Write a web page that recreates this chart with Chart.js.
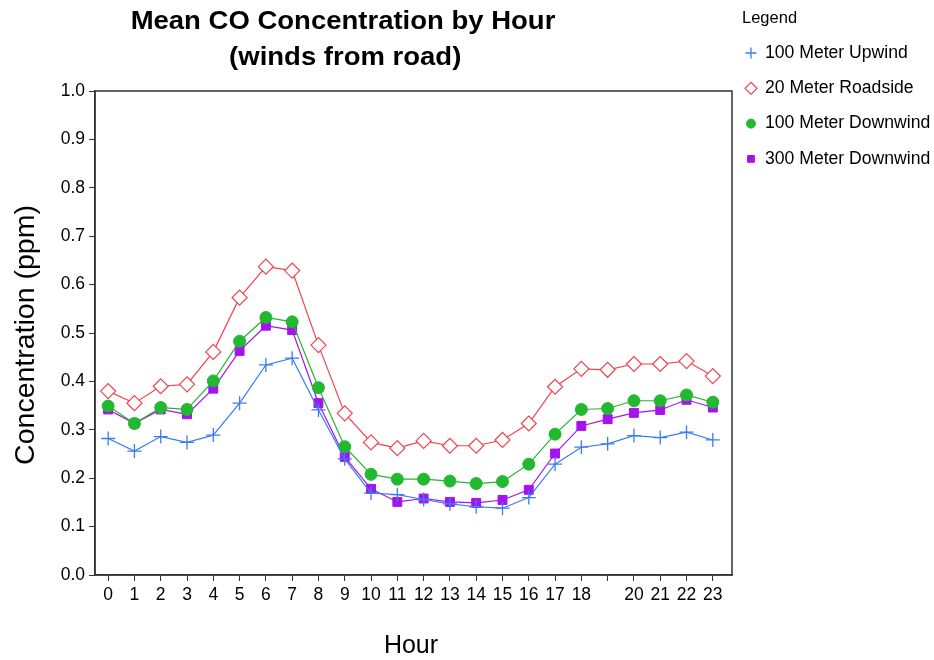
<!DOCTYPE html>
<html>
<head>
<meta charset="utf-8">
<script src="https://cdn.jsdelivr.net/npm/chart.js@4/dist/chart.umd.min.js"></script>
<style>
  body { margin: 0; background: #fff; }
  #wrap { width: 934px; height: 660px; }
</style>
</head>
<body>
<div id="wrap"><canvas id="coChart" width="934" height="660"></canvas></div>
<script>
// hours and the labels printed under them (19 has no label in the original)
const hours = [0, 1, 2, 3, 4, 5, 6, 7, 8, 9, 10, 11, 12, 13, 14, 15, 16, 17, 18, 19, 20, 21, 22, 23];
const hourLabels = ['0','1','2','3','4','5','6','7','8','9','10','11','12','13','14','15','16','17','18','','20','21','22','23'];
const yTicks = [0.0, 0.1, 0.2, 0.3, 0.4, 0.5, 0.6, 0.7, 0.8, 0.9, 1.0];

const upwind100 = [0.282, 0.256, 0.286, 0.274, 0.289, 0.355, 0.434, 0.448, 0.341, 0.240, 0.169, 0.166, 0.156, 0.147, 0.141, 0.138, 0.160, 0.229, 0.264, 0.271, 0.288, 0.284, 0.295, 0.279];
const roadside20 = [0.380, 0.355, 0.390, 0.394, 0.461, 0.573, 0.637, 0.629, 0.475, 0.334, 0.274, 0.262, 0.277, 0.267, 0.267, 0.279, 0.313, 0.389, 0.426, 0.424, 0.436, 0.436, 0.442, 0.411];
const downwind100 = [0.349, 0.313, 0.346, 0.342, 0.401, 0.483, 0.532, 0.523, 0.387, 0.265, 0.208, 0.198, 0.198, 0.194, 0.189, 0.193, 0.229, 0.291, 0.342, 0.344, 0.360, 0.360, 0.372, 0.357];
const downwind300 = [0.342, 0.313, 0.342, 0.332, 0.385, 0.463, 0.515, 0.506, 0.355, 0.244, 0.178, 0.151, 0.158, 0.151, 0.149, 0.155, 0.176, 0.251, 0.308, 0.322, 0.335, 0.341, 0.362, 0.346];

const FONT = '"Liberation Sans", Arial, sans-serif';

const series = [
  { label: '100 Meter Upwind', data: upwind100, color: '#3a7df2', style: 'cross', r: 7, fill: '#3a7df2', bw: 1.3 },
  { label: '20 Meter Roadside', data: roadside20, color: '#f0434f', style: 'rectRot', r: 7.5, fill: '#ffffff', bw: 1.2 },
  { label: '100 Meter Downwind', data: downwind100, color: '#22b830', style: 'circle', r: 6, fill: '#22b830', bw: 1 },
  { label: '300 Meter Downwind', data: downwind300, color: '#a412f0', style: 'rect', r: 6.3, fill: '#a412f0', bw: 1 }
];

// title, axis titles, legend and the box round the plot
const decor = {
  id: 'decor',
  afterDraw(chart) {
    const ctx = chart.ctx;
    const a = chart.chartArea;
    ctx.save();
    ctx.strokeStyle = '#333';
    ctx.lineWidth = 1.5;
    ctx.strokeRect(a.left, a.top, a.right - a.left, a.bottom - a.top);

    ctx.fillStyle = '#000';
    ctx.textAlign = 'center';
    ctx.textBaseline = 'middle';
    ctx.font = 'bold 25px ' + FONT;
    ctx.save();
    ctx.translate(343, 0);
    ctx.scale(1.1, 1);
    ctx.fillText('Mean CO Concentration by Hour', 0, 22);
    ctx.fillText('(winds from road)', 2, 58);
    ctx.restore();

    ctx.font = '25px ' + FONT;
    ctx.fillText('Hour', 411, 646);
    ctx.save();
    ctx.translate(26, 335);
    ctx.rotate(-Math.PI / 2);
    ctx.font = '28.5px ' + FONT;
    ctx.fillText('Concentration (ppm)', 0, 0);
    ctx.restore();

    ctx.textAlign = 'left';
    ctx.font = '16.5px ' + FONT;
    ctx.fillText('Legend', 742, 18);
    ctx.font = '17.6px ' + FONT;
    series.forEach((s, i) => {
      const y = 53 + i * 35.3;
      ctx.strokeStyle = s.color;
      ctx.fillStyle = s.fill;
      ctx.lineWidth = s.bw;
      Chart.helpers.drawPoint(ctx, { pointStyle: s.style, radius: s.r - 1.5, borderWidth: s.bw }, 751, y);
      ctx.fillStyle = '#000';
      ctx.fillText(s.label, 765, y);
    });
    ctx.restore();
  }
};

new Chart(document.getElementById('coChart'), {
  type: 'line',
  data: {
    datasets: series.map(s => ({
      label: s.label,
      data: s.data.map((v, i) => ({ x: hours[i], y: v })),
      borderColor: s.color,
      backgroundColor: s.fill,
      borderWidth: 1.2,
      pointStyle: s.style,
      pointRadius: s.r,
      pointBorderColor: s.color,
      pointBackgroundColor: s.fill,
      pointBorderWidth: s.bw,
      tension: 0
    }))
  },
  options: {
    responsive: false,
    animation: false,
    layout: { padding: { left: 0, right: 202, top: 91, bottom: 45 } },
    plugins: {
      legend: { display: false },
      title: { display: false },
      tooltip: { enabled: false }
    },
    scales: {
      x: {
        type: 'linear',
        min: -0.5,
        max: 23.73,
        afterBuildTicks(scale) { scale.ticks = hours.map(v => ({ value: v })); },
        grid: { display: true, drawOnChartArea: false, drawTicks: true, tickLength: 6, color: '#333' },
        border: { color: '#333', width: 1.5 },
        ticks: {
          color: '#000', font: { family: FONT, size: 17.5 }, autoSkip: false, maxRotation: 0, padding: 4,
          callback: v => hourLabels[hours.indexOf(v)]
        },
        afterFit(scale) { scale.height = 40; }
      },
      y: {
        min: 0,
        max: 1,
        afterBuildTicks(scale) { scale.ticks = yTicks.map(v => ({ value: v })); },
        grid: { display: true, drawOnChartArea: false, drawTicks: true, tickLength: 6, color: '#333' },
        border: { color: '#333', width: 1.5 },
        ticks: { color: '#000', font: { family: FONT, size: 17.5 }, padding: 4, callback: v => v.toFixed(1) },
        afterFit(scale) { scale.width = 95; }
      }
    }
  },
  plugins: [decor]
});
</script>
</body>
</html>
